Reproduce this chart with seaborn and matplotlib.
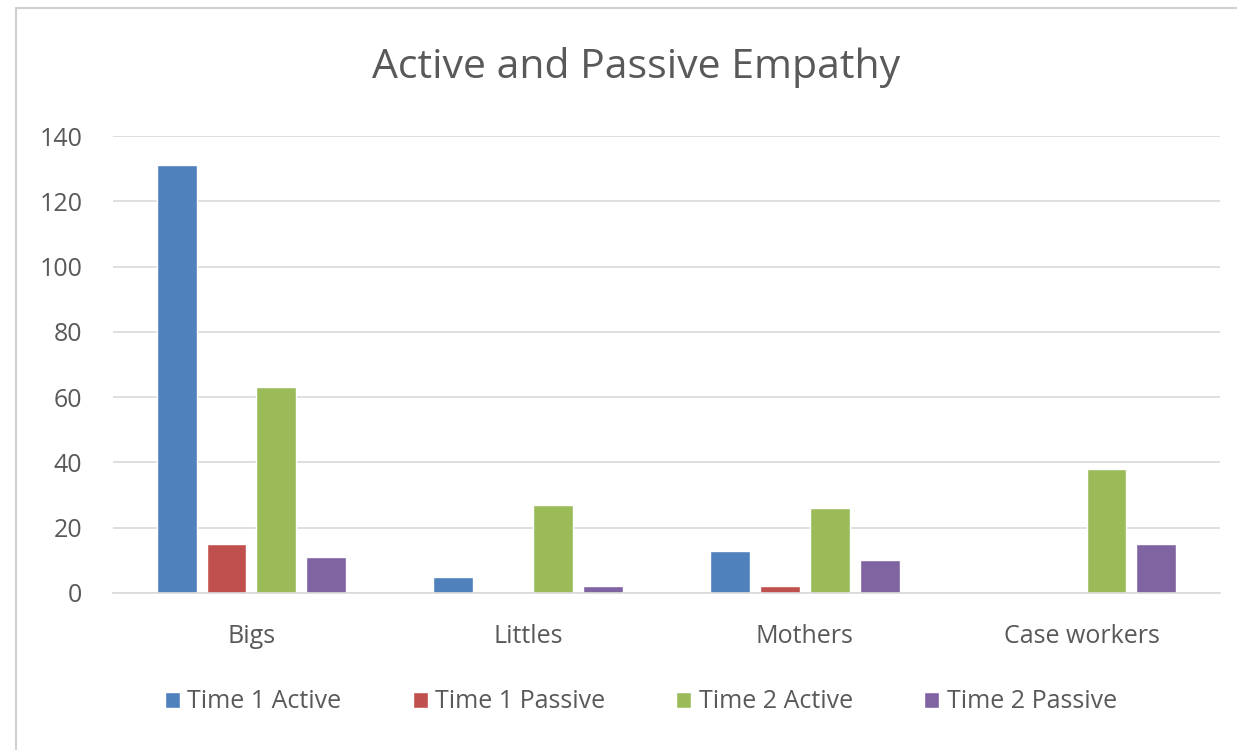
import matplotlib
matplotlib.use("Agg")
import matplotlib.pyplot as plt
from matplotlib.lines import Line2D
import seaborn as sns
import pandas as pd

# Chart data
groups = ["Bigs", "Littles", "Mothers", "Case workers"]
series = ["Time 1 Active", "Time 1 Passive", "Time 2 Active", "Time 2 Passive"]
time1_active = [131, 5, 13, 0]
time1_passive = [15, 0, 2, 0]
time2_active = [63, 27, 26, 38]
time2_passive = [11, 2, 10, 15]
y_ticks = [0, 20, 40, 60, 80, 100, 120, 140]

colors = ["#4F81BD", "#C0504D", "#9BBB59", "#8064A2"]
text_color = "#595959"
grid_color = "#D9D9D9"

rows = []
for name, vals in zip(series, [time1_active, time1_passive, time2_active, time2_passive]):
    for g, v in zip(groups, vals):
        rows.append({"group": g, "series": name, "value": v})
df = pd.DataFrame(rows)

sns.set_style("white")
plt.rcParams["font.family"] = ["Open Sans", "DejaVu Sans"]

fig = plt.figure(figsize=(12.37, 7.5), dpi=100)
ax = fig.add_axes([113 / 1237, 1 - 593 / 750, (1220 - 113) / 1237, (593 - 136) / 750])

sns.barplot(data=df, x="group", y="value", hue="series", order=groups,
            hue_order=series, palette=colors, width=0.72, gap=0.2,
            saturation=1, ax=ax, legend=True)

ax.set_ylim(0, 140)
ax.set_xlim(-0.5, 3.5)
ax.set_yticks(y_ticks)
ax.yaxis.grid(True, color=grid_color, linewidth=1.2)
ax.set_axisbelow(True)
for side in ["top", "right", "left"]:
    ax.spines[side].set_visible(False)
ax.spines["bottom"].set_color(grid_color)
ax.spines["bottom"].set_linewidth(1.2)
ax.tick_params(axis="y", length=0, pad=22, labelsize=18, labelcolor=text_color)
ax.tick_params(axis="x", length=0, pad=22, labelsize=18, labelcolor=text_color)
ax.set_xlabel("")
ax.set_ylabel("")

fig.text(0.514, 1 - 68 / 750, "Active and Passive Empathy", ha="center", va="center",
         fontsize=29.5, color=text_color)

handles, labels = ax.get_legend_handles_labels()
ax.legend_.remove()
fig.legend(handles, labels, loc="center", bbox_to_anchor=(0.518, 1 - 702 / 750),
           ncol=4, frameon=False, fontsize=18, labelcolor=text_color,
           handlelength=0.6, handleheight=0.6, handletextpad=0.3, columnspacing=2.85)

# chart frame edges
fig.add_artist(Line2D([16 / 1237, 16 / 1237], [0, 1 - 8 / 750], color="#D0D0D0", linewidth=1.5))
fig.add_artist(Line2D([16 / 1237, 1], [1 - 8 / 750, 1 - 8 / 750], color="#D0D0D0", linewidth=1.5))

fig.savefig("out.png", dpi=100, facecolor="white")
